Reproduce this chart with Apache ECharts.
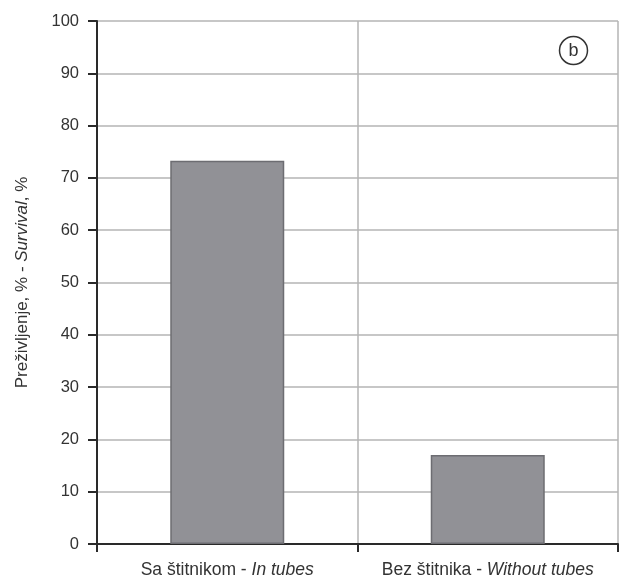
<!DOCTYPE html>
<html>
<head>
<meta charset="utf-8">
<script src="https://cdn.jsdelivr.net/npm/echarts@6/dist/echarts.min.js"></script>
<style>
  html, body { margin: 0; padding: 0; background: #ffffff; }
  #chart { width: 624px; height: 581px; }
</style>
</head>
<body>
<div id="chart"></div>
<script>
// Survival by treatment (panel b)
const categories = ['Sa štitnikom - In tubes', 'Bez štitnika - Without tubes'];
const categoryLabels = [
  '{n|Sa štitnikom - }{i|In tubes}',
  '{n|Bez štitnika - }{i|Without tubes}'
];
const survival = [73.3, 17.0];
const yTicks = [0, 10, 20, 30, 40, 50, 60, 70, 80, 90, 100];

const FONT = '"Liberation Sans", Arial, sans-serif';
const chart = echarts.init(document.getElementById('chart'), null, { renderer: 'canvas' });

chart.setOption({
  backgroundColor: '#ffffff',
  animation: false,
  grid: { left: 97, right: 6, top: 21, bottom: 37 },
  xAxis: {
    type: 'category',
    data: categories,
    boundaryGap: true,
    axisLine: { lineStyle: { color: '#2a2a2a', width: 2 } },
    axisTick: { show: true, length: 8, inside: false, lineStyle: { color: '#2a2a2a', width: 2 } },
    splitLine: { show: true, lineStyle: { color: '#b4b4b4', width: 1.5 } },
    axisLabel: {
      margin: 17,
      formatter: (v, i) => categoryLabels[i],
      rich: {
        n: { fontFamily: FONT, fontSize: 17.5, color: '#333333' },
        i: { fontFamily: FONT, fontSize: 17.5, color: '#333333', fontStyle: 'italic' }
      }
    }
  },
  yAxis: {
    type: 'value',
    min: yTicks[0],
    max: yTicks[yTicks.length - 1],
    interval: 10,
    name: '{n|Preživljenje, % - }{i|Survival}{n|, %}',
    nameLocation: 'middle',
    nameGap: 66,
    nameTextStyle: {
      rich: {
        n: { fontFamily: FONT, fontSize: 17, color: '#333333' },
        i: { fontFamily: FONT, fontSize: 17, color: '#333333', fontStyle: 'italic' }
      }
    },
    axisLine: { show: true, lineStyle: { color: '#2a2a2a', width: 2 } },
    axisTick: { show: true, length: 9, inside: false, lineStyle: { color: '#2a2a2a', width: 2 } },
    splitLine: { show: true, lineStyle: { color: '#b4b4b4', width: 1.5 } },
    axisLabel: { fontFamily: FONT, fontSize: 16.5, color: '#333333', margin: 18 }
  },
  graphic: [
    {
      type: 'group',
      right: 34,
      top: 34,
      children: [
        { type: 'circle', shape: { cx: 14, cy: 14, r: 14 }, style: { fill: 'none', stroke: '#333333', lineWidth: 1.5 } },
        { type: 'text', x: 14, y: 15, style: { text: 'b', fontFamily: FONT, fontSize: 18, fill: '#333333', align: 'center', verticalAlign: 'middle' } }
      ]
    }
  ],
  series: [
    {
      type: 'bar',
      data: survival,
      barWidth: 114,
      itemStyle: { color: '#919196', borderColor: '#6d6d72', borderWidth: 1.5 }
    }
  ]
});
</script>
</body>
</html>
